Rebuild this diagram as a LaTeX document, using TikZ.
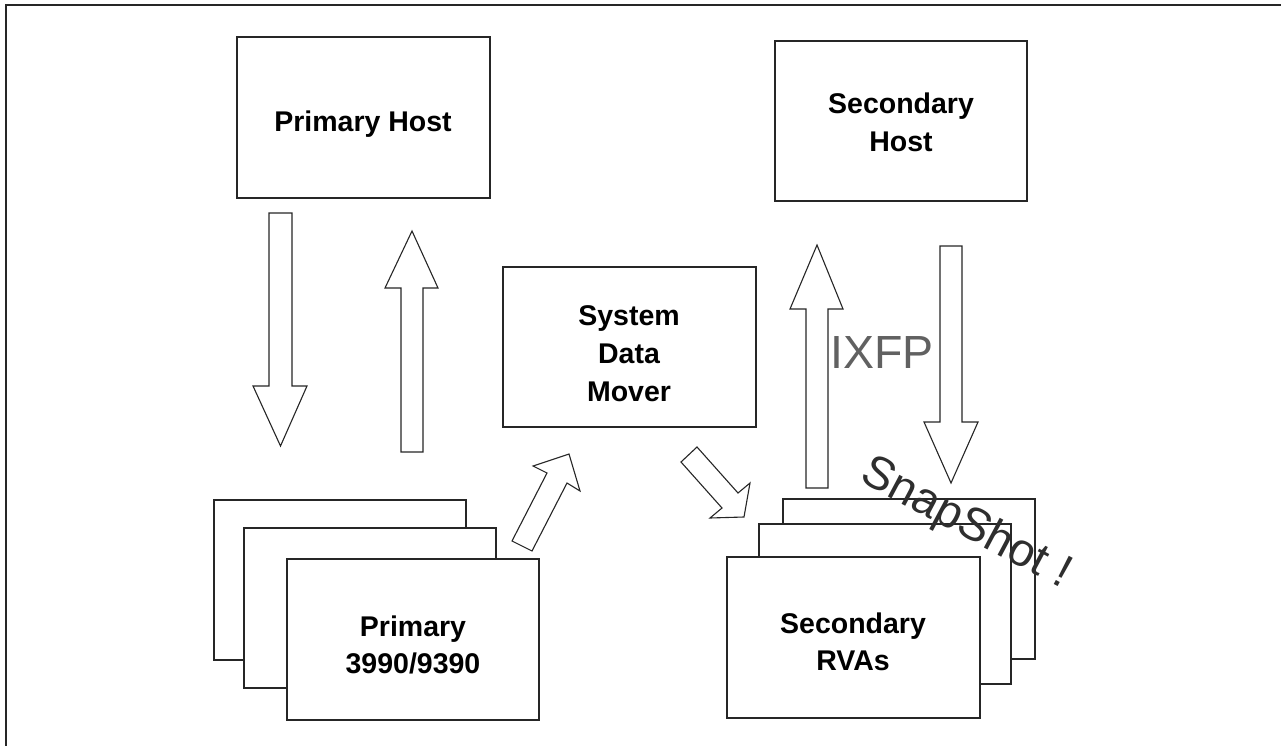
\documentclass[tikz,border=0pt]{standalone}
\usepackage{fontspec}
\setmainfont{Liberation Sans}
\begin{document}
\begin{tikzpicture}[x=1pt,y=-1pt,
  line/.style={draw=black!85,line width=1.1pt},
  boxr/.style={line,fill=white},
  blk/.style={line,fill=white,line join=miter},
  lbl/.style={font=\fontsize{28.5}{34}\selectfont\bfseries,anchor=base,inner sep=0pt},
  big/.style={font=\fontsize{46.5}{54}\selectfont,anchor=base,inner sep=0pt}]
\useasboundingbox (0,0) rectangle (1281,746);
\clip (0,0) rectangle (1281,746);
% outer frame (partly outside the picture)
\draw[line,line width=1.5pt] (6,760) -- (6,5) -- (1300,5);
% hosts
\draw[boxr] (237,37) rectangle (490,198);
\node[lbl] (ph) at (363,132) {Primary Host};
\draw[boxr] (775,41) rectangle (1027,201);
\node[lbl] (sh1) at (901,114) {Secondary};
\node[lbl] (sh2) at (901,152) {Host};
% system data mover
\draw[boxr] (503,267) rectangle (756,427);
\node[lbl] (sdm1) at (629,325) {System};
\node[lbl] (sdm2) at (629,363) {Data};
\node[lbl] (sdm3) at (629,401) {Mover};
% primary stack
\draw[boxr] (214,500) rectangle (466,660);
\draw[boxr] (244,528) rectangle (496,688);
\draw[boxr] (287,559) rectangle (539,720);
\node[lbl] (p1) at (413,636) {Primary};
\node[lbl] (p2) at (413,673) {3990/9390};
% secondary stack
\draw[boxr] (783,499) rectangle (1035,659);
\draw[boxr] (759,524) rectangle (1011,684);
\draw[boxr] (727,557) rectangle (980,718);
\node[lbl] (s1) at (853,633) {Secondary};
\node[lbl] (s2) at (853,670) {RVAs};
% block arrows
\draw[blk] (269,213) -- (292,213) -- (292,386) -- (307,386) -- (280.5,446) -- (253,386) -- (269,386) -- cycle;
\draw[blk] (412,231) -- (438,288) -- (423,288) -- (423,452) -- (401,452) -- (401,288) -- (385,288) -- cycle;
\draw[blk] (817,245) -- (843,309) -- (828,309) -- (828,488) -- (806,488) -- (806,309) -- (790,309) -- cycle;
\draw[blk] (940,246) -- (962,246) -- (962,422) -- (978,422) -- (951,483) -- (924,422) -- (940,422) -- cycle;
\draw[blk] (512,541) -- (547,473) -- (533,466) -- (569,454) -- (580,491) -- (567,483) -- (532,551) -- cycle;
\draw[blk] (697,447) -- (738,493) -- (750,483) -- (744,517) -- (710,518) -- (722,508) -- (681,462) -- cycle;
% annotations
\node[big,text=black!62] (ixfp) at (882,368) {IXFP};
\node[big,text=black!82,rotate=-28] (snap) at (960,535) {SnapShot !};
\end{tikzpicture}
\end{document}
